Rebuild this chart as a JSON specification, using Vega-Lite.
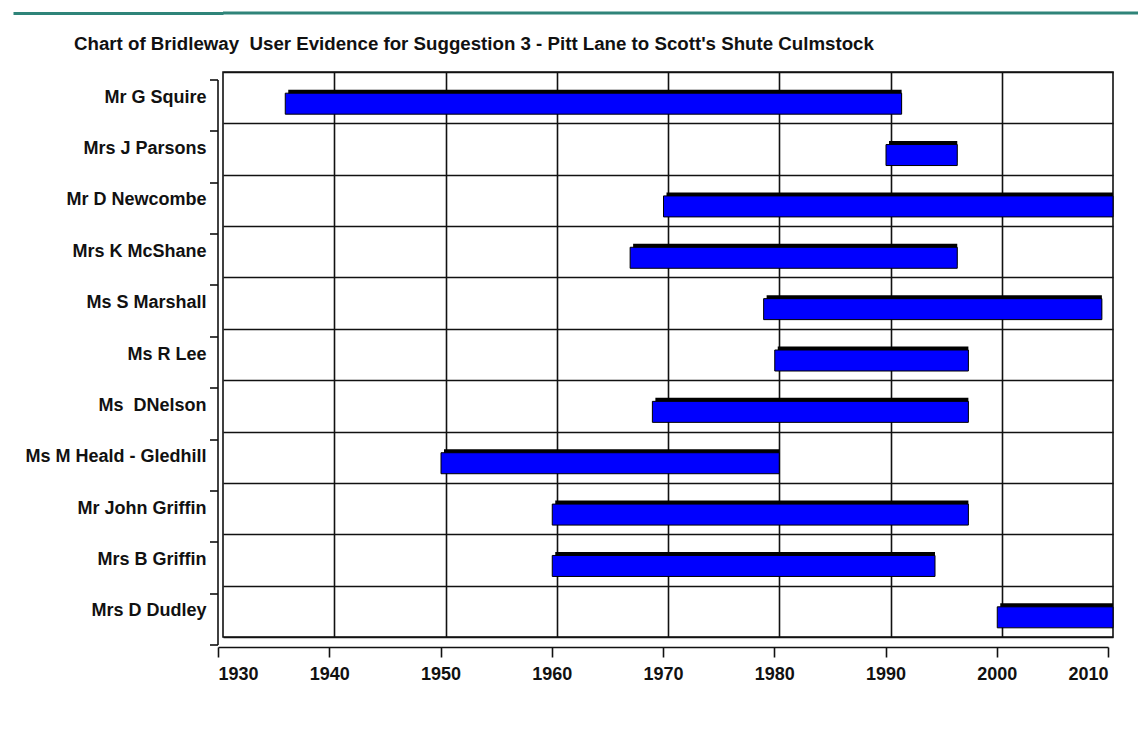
{
  "$schema": "https://vega.github.io/schema/vega-lite/v6.json",
  "padding": {"left": 11, "top": 11, "right": 0, "bottom": 5},
  "background": "white",
  "config": {"view": {"stroke": null}, "font": "Liberation Sans"},
  "columns": 1,
  "align": "none",
  "spacing": 19,
  "concat": [
    {
      "width": 918,
      "height": 1,
      "data": {"values": [{"v": 0}]},
      "mark": {"type": "rule", "color": "#2f8479", "strokeWidth": 3},
      "encoding": {
        "y": {
          "field": "v", "type": "quantitative",
          "scale": {"domain": [0, 1]},
          "axis": {"values": [0], "tickSize": 210, "tickColor": "#2f8479", "tickWidth": 3, "labels": false, "domain": false, "grid": false, "title": null}
        }
      }
    },
    {
      "title": {
        "text": "Chart of Bridleway\u00a0 User Evidence for Suggestion 3 - Pitt Lane to Scott's Shute Culmstock",
        "anchor": "start",
        "frame": "group",
        "dx": -149,
        "offset": 9,
        "font": "Liberation Sans",
        "fontSize": 18.7,
        "fontWeight": "bold",
        "color": "#111"
      },
      "width": 890,
      "height": 565,
      "view": {"stroke": "#111", "strokeWidth": 1.6},
      "data": {
        "values": [
          {"name": "Mr G Squire", "start": 1936, "end": 1991},
          {"name": "Mrs J Parsons", "start": 1990, "end": 1996},
          {"name": "Mr D Newcombe", "start": 1970, "end": 2010},
          {"name": "Mrs K McShane", "start": 1967, "end": 1996},
          {"name": "Ms S Marshall", "start": 1979, "end": 2009},
          {"name": "Ms R Lee", "start": 1980, "end": 1997},
          {"name": "Ms\u00a0 DNelson", "start": 1969, "end": 1997},
          {"name": "Ms M Heald - Gledhill", "start": 1950, "end": 1980},
          {"name": "Mr John Griffin", "start": 1960, "end": 1997},
          {"name": "Mrs B Griffin", "start": 1960, "end": 1994},
          {"name": "Mrs D Dudley", "start": 2000, "end": 2010}
        ]
      },
      "layer": [
        {
          "mark": {"type": "bar", "color": "#000", "height": 21, "xOffset": -1.5, "yOffset": 2.5},
          "encoding": {
            "x": {
              "field": "start", "type": "quantitative",
              "scale": {"domain": [1930, 2010], "nice": false, "zero": false},
              "axis": {"orient": "bottom", "grid": true, "gridColor": "#111", "gridWidth": 1.6, "domain": false, "ticks": false, "labels": false, "title": null, "values": [1940, 1950, 1960, 1970, 1980, 1990, 2000]}
            },
            "x2": {"field": "end"},
            "y": {
              "field": "name", "type": "nominal", "sort": null,
              "scale": {"paddingInner": 0, "paddingOuter": 0},
              "axis": {"orient": "left", "grid": true, "gridColor": "#111", "gridWidth": 1.6, "tickBand": "extent", "domain": false, "ticks": false, "labels": false, "title": null}
            }
          }
        },
        {
          "mark": {"type": "bar", "color": "#0000FF", "stroke": "#000", "strokeWidth": 1, "height": 21, "xOffset": -4.5, "yOffset": 6},
          "encoding": {
            "x": {
              "field": "start", "type": "quantitative",
              "axis": {
                "orient": "bottom",
                "grid": false, "values": [1930, 1940, 1950, 1960, 1970, 1980, 1990, 2000, 2010], "format": "d",
                "labelFont": "Liberation Sans", "labelFontSize": 18, "labelFontWeight": "bold", "labelColor": "#111",
                "tickColor": "#111", "tickSize": 10, "tickWidth": 1.6, "domainColor": "#111", "domainWidth": 1.6,
                "offset": 15, "translate": -4.5, "labelPadding": 8, "title": null
              }
            },
            "x2": {"field": "end"},
            "y": {
              "field": "name", "type": "nominal", "sort": null,
              "axis": {
                "orient": "left",
                "grid": false, "tickBand": "extent", "translate": 8, "offset": 13, "labelOffset": -8,
                "tickSize": 8, "tickWidth": 1.6, "tickColor": "#111", "domainColor": "#111", "domainWidth": 1.6,
                "labelPadding": 3.5, "labelFont": "Liberation Sans", "labelFontSize": 18, "labelFontWeight": "bold",
                "labelColor": "#111", "labelLimit": 400, "title": null
              }
            }
          }
        }
      ],
      "resolve": {"axis": {"x": "independent", "y": "independent"}}
    }
  ]
}
